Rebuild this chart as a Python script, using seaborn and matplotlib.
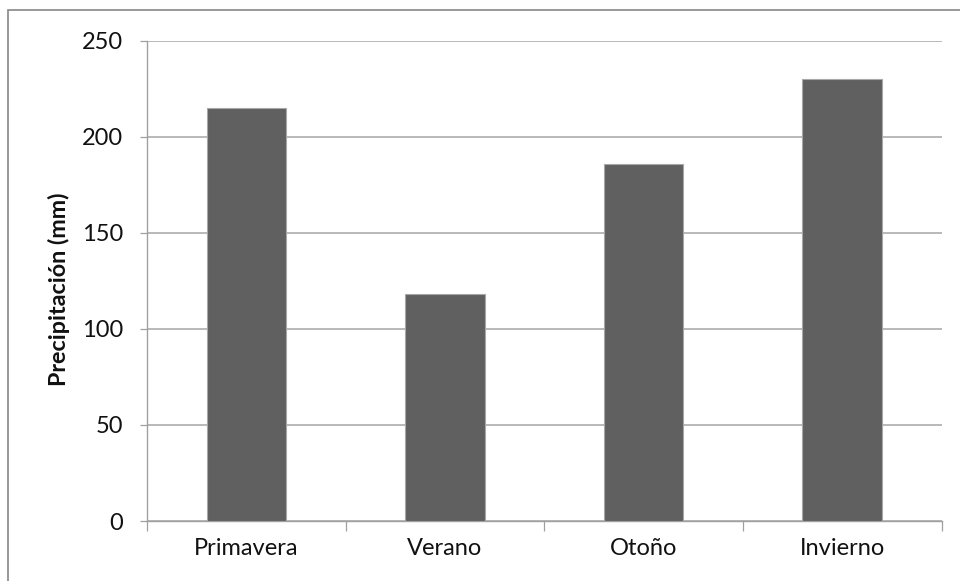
import matplotlib
matplotlib.use("Agg")
import matplotlib.pyplot as plt
import matplotlib.patches as mpatches
from matplotlib.ticker import FixedLocator
import seaborn as sns
import pandas as pd

# Seasonal precipitation
estaciones = ["Primavera", "Verano", "Otoño", "Invierno"]
precipitacion = [215, 118, 186, 230]
y_ticks = [0, 50, 100, 150, 200, 250]

df = pd.DataFrame({"Estación": estaciones, "Precipitación": precipitacion})

sns.set_theme(style="white")
plt.rcParams["font.family"] = ["Lato", "DejaVu Sans"]

fig = plt.figure(figsize=(9.6, 5.81), dpi=100)
ax = fig.add_axes([147 / 960, 1 - 521 / 581, (941.5 - 147) / 960, (521 - 40.7) / 581])

sns.barplot(data=df, x="Estación", y="Precipitación", order=estaciones,
            color="#606060", saturation=1, width=0.4,
            edgecolor="#a8a8a8", linewidth=0.8, ax=ax, zorder=3)

ax.set_xlim(-0.5, len(estaciones) - 0.5)
ax.set_ylim(0, 250)
ax.set_yticks(y_ticks)
ax.yaxis.grid(True, color="#a6a6a6", linewidth=1.1, zorder=0)
ax.set_axisbelow(True)

for side in ("top", "right"):
    ax.spines[side].set_visible(False)
for side in ("left", "bottom"):
    ax.spines[side].set_color("#a0a0a0")
    ax.spines[side].set_linewidth(1.0)

ax.tick_params(axis="y", which="major", direction="out", length=5, width=0.9,
               color="#a0a0a0", left=True, pad=12, labelsize=17, labelcolor="#111111")
ax.tick_params(axis="x", which="major", length=0, pad=12, labelsize=17, labelcolor="#111111")
ax.xaxis.set_minor_locator(FixedLocator([i - 0.5 for i in range(len(estaciones) + 1)]))
ax.tick_params(axis="x", which="minor", direction="out", length=7, width=0.9,
               color="#a0a0a0", bottom=True)

ax.set_xlabel("")
ax.set_ylabel("Precipitación (mm)", fontsize=16.8, fontweight="bold", color="#111111")
ax.yaxis.set_label_coords(-0.097, 0.483)

# Chart-area border
border = mpatches.Rectangle((8 / 960, -0.1), 1.2, (1 - 10 / 581) + 0.1,
                            transform=fig.transFigure, fill=False,
                            edgecolor="#868686", linewidth=1.2, clip_on=False)
fig.patches.append(border)

fig.savefig("out.png", dpi=100)
